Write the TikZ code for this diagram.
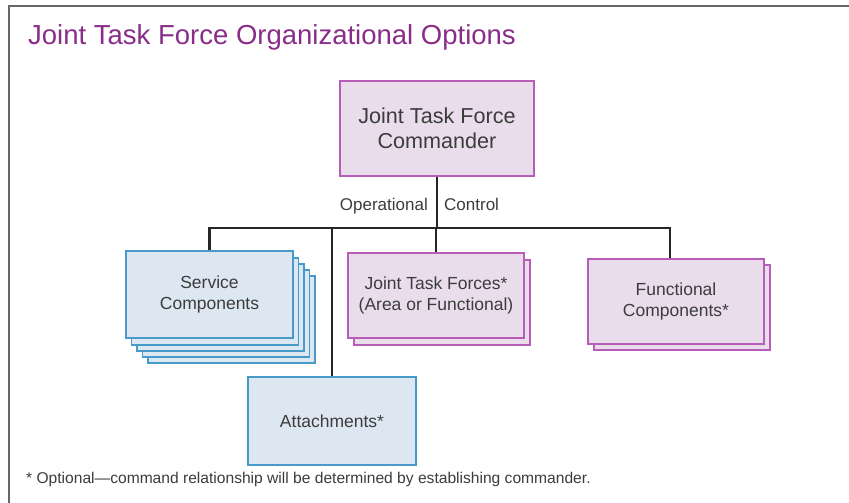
\documentclass[tikz,border=0pt]{standalone}
\usepackage{fontspec}
\setmainfont{Liberation Sans}
\usetikzlibrary{shadows}

\definecolor{titlepurple}{RGB}{137,45,137}
\definecolor{pinkline}{RGB}{183,92,183}
\definecolor{pinkfill}{RGB}{233,221,236}
\definecolor{blueline}{RGB}{72,154,203}
\definecolor{bluefill}{RGB}{221,231,242}
\definecolor{textgray}{RGB}{60,60,60}

\begin{document}
\begin{tikzpicture}[x=1pt,y=-1pt]
                \tikzset{pinkbox/.style={draw=pinkline, fill=pinkfill, line width=1.2pt, inner sep=0pt,
                minimum width=176pt, minimum height=85pt, align=center, text=textgray,
                font=\fontsize{17.5}{21}\selectfont},
                bluebox/.style={pinkbox, draw=blueline, fill=bluefill},
                orgline/.style={line width=2.4pt, draw=black!85}}

                \useasboundingbox (0,0) rectangle (849,503);
                % frame
                \draw[line width=2pt, black!60] (9,503) |- (849,6);
                \node[anchor=base west, inner sep=0pt, text=titlepurple, font=\fontsize{27.5}{32}\selectfont] (title) at (28,45) {Joint Task Force Organizational Options};

                \node[pinkbox, minimum width=194pt, minimum height=95pt, font=\fontsize{21.6}{25}\selectfont] (cmdr) at (437,128.5) {Joint Task Force\\Commander};
                \node[bluebox, minimum width=167pt, minimum height=87pt,
                      copy shadow={shadow xshift=22pt, shadow yshift=-25pt},
                      copy shadow={shadow xshift=16.5pt, shadow yshift=-19pt},
                      copy shadow={shadow xshift=11pt, shadow yshift=-13pt},
                      copy shadow={shadow xshift=5.5pt, shadow yshift=-7pt}] (svc) at (209.5,294.5) {Service\\Components};
                \node[pinkbox, copy shadow={shadow xshift=6pt, shadow yshift=-7pt}] (jtf) at (436,295.5) {Joint Task Forces*\\(Area or Functional)};
                \node[pinkbox, copy shadow={shadow xshift=6pt, shadow yshift=-6pt}] (func) at (676,301.5) {Functional\\Components*};
                \node[bluebox, minimum width=168pt, minimum height=88pt] (attach) at (332,421) {Attachments*};

                \coordinate (bus) at (437,228);
                \draw[orgline] (cmdr.south) -- (bus);
                \draw[orgline] (svc.north) |- (bus) -| ([xshift=-6pt]func.north);
                \draw[orgline] (jtf.north) -- (jtf.north |- bus);
                \draw[orgline] (attach.north) -- (attach.north |- bus);

                \node[anchor=base east, inner sep=0pt, text=textgray, font=\fontsize{17}{20}\selectfont] (opl) at (428,210) {Operational};
                \node[anchor=base west, inner sep=0pt, text=textgray, font=\fontsize{17}{20}\selectfont] (ctl) at (444,210) {Control};

                \node[anchor=base west, inner sep=0pt, text=textgray, font=\fontsize{15.6}{18}\selectfont] (note) at (26,483) {* Optional—command relationship will be determined by establishing commander.};
\end{tikzpicture}
\end{document}
